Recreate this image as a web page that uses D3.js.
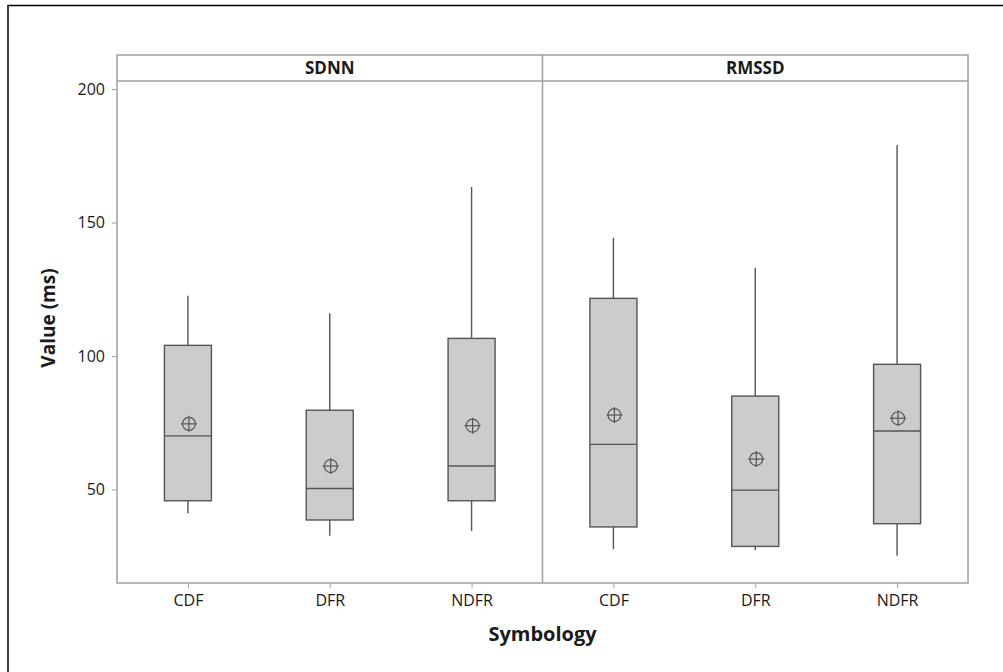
<!DOCTYPE html>
<html>
<head>
<meta charset="utf-8">
<script src="https://cdn.jsdelivr.net/npm/d3@7"></script>
<style>
  body { margin: 0; background: #fff; }
  svg { display: block; font-family: "Open Sans", "Noto Sans", sans-serif; }
  .tick text { fill: #1a1a1a; font-size: 16px; font-family: "Open Sans", "Noto Sans", sans-serif; }
  .tick line { stroke: #a0a0a0; }
</style>
</head>
<body>
<svg id="chart" width="1003" height="672"></svg>
<script>
// facet panels and groups on the x axis
var panels = ['SDNN', 'RMSSD'];
var groups = ['CDF', 'DFR', 'NDFR'];
var yTicks = [50, 100, 150, 200];

// SDNN box stats (ms), in order CDF, DFR, NDFR
var sdnnLow    = [41.1, 32.7, 34.5];
var sdnnQ1     = [45.8, 38.6, 45.8];
var sdnnMedian = [70.1, 50.4, 58.8];
var sdnnQ3     = [104.0, 79.7, 106.6];
var sdnnHigh   = [122.6, 116.0, 163.3];
var sdnnMean   = [74.6, 58.8, 73.9];

// RMSSD box stats (ms)
var rmssdLow    = [27.7, 27.3, 25.2];
var rmssdQ1     = [36.0, 28.7, 37.2];
var rmssdMedian = [66.9, 49.8, 71.9];
var rmssdQ3     = [121.6, 85.0, 96.9];
var rmssdHigh   = [144.3, 133.1, 179.0];
var rmssdMean   = [77.9, 61.4, 76.7];

// build rows for drawing
function rows(panel, low, q1, med, q3, high, mean) {
    return groups.map(function(g, i) {
        return {panel: panel, group: g, low: low[i], q1: q1[i], median: med[i], q3: q3[i], high: high[i], mean: mean[i]};
    });
}
var data = rows('SDNN', sdnnLow, sdnnQ1, sdnnMedian, sdnnQ3, sdnnHigh, sdnnMean)
    .concat(rows('RMSSD', rmssdLow, rmssdQ1, rmssdMedian, rmssdQ3, rmssdHigh, rmssdMean));

var svg = d3.select('#chart');

// plot area
var plotLeft = 117, plotRight = 968, plotTop = 55, stripBottom = 81, plotBottom = 583;
var boxWidth = 47;
var frameColor = '#a0a0a0';
var boxStroke = '#555555';

// black outer frame (only top/left visible)
svg.append('path')
    .attr('d', 'M8,680 L8,5.5 L1010,5.5')
    .attr('fill', 'none')
    .attr('stroke', '#000')
    .attr('stroke-width', 1.5);

var yScale = d3.scaleLinear()
    .domain([15, 203])
    .range([plotBottom, stripBottom]);

var panelScale = d3.scaleBand()
    .domain(panels)
    .range([plotLeft, plotRight]);

var xScale = d3.scalePoint()
    .domain(groups)
    .range([0, panelScale.bandwidth()])
    .padding(0.5);

// y axis
var leftAxis = d3.axisLeft(yScale)
    .tickValues(yTicks)
    .tickSize(5)
    .tickPadding(7);

svg.append('g')
    .attr('transform', 'translate(' + plotLeft + ',0)')
    .call(leftAxis)
    .call(function(g) { g.select('.domain').remove(); });

// panels
panels.forEach(function(p) {
    var x0 = panelScale(p);
    var g = svg.append('g').attr('transform', 'translate(' + x0 + ',0)');

    var bottomAxis = d3.axisBottom(xScale).tickSize(5).tickPadding(7);
    g.append('g')
        .attr('transform', 'translate(0,' + plotBottom + ')')
        .call(bottomAxis)
        .call(function(a) { a.select('.domain').remove(); });

    // strip label
    g.append('text')
        .attr('x', panelScale.bandwidth() / 2)
        .attr('y', (plotTop + stripBottom) / 2)
        .attr('dy', '0.36em')
        .attr('text-anchor', 'middle')
        .attr('font-size', '17px')
        .attr('font-weight', 'bold')
        .attr('fill', '#1a1a1a')
        .text(p);

    var boxes = g.selectAll('g.box')
        .data(data.filter(function(d) { return d.panel === p; }))
        .enter()
        .append('g')
            .attr('class', 'box')
            .attr('transform', function(d) { return 'translate(' + xScale(d.group) + ',0)'; });

    // whiskers
    boxes.append('line')
        .attr('y1', function(d) { return yScale(d.high); })
        .attr('y2', function(d) { return yScale(d.q3); })
        .attr('stroke', boxStroke).attr('stroke-width', 1.4);
    boxes.append('line')
        .attr('y1', function(d) { return yScale(d.q1); })
        .attr('y2', function(d) { return yScale(d.low); })
        .attr('stroke', boxStroke).attr('stroke-width', 1.4);

    boxes.append('rect')
        .attr('x', -boxWidth / 2)
        .attr('width', boxWidth)
        .attr('y', function(d) { return yScale(d.q3); })
        .attr('height', function(d) { return yScale(d.q1) - yScale(d.q3); })
        .attr('fill', '#cccccc')
        .attr('stroke', boxStroke)
        .attr('stroke-width', 1.4);

    boxes.append('line')
        .attr('x1', -boxWidth / 2)
        .attr('x2', boxWidth / 2)
        .attr('y1', function(d) { return yScale(d.median); })
        .attr('y2', function(d) { return yScale(d.median); })
        .attr('stroke', boxStroke).attr('stroke-width', 1.4);

    // mean symbol: circle with cross
    var mean = boxes.append('g')
        .attr('transform', function(d) { return 'translate(1,' + yScale(d.mean) + ')'; })
        .attr('stroke', boxStroke)
        .attr('stroke-width', 1.2)
        .attr('fill', 'none');
    mean.append('circle').attr('r', 6.5);
    mean.append('line').attr('x1', -8).attr('x2', 8);
    mean.append('line').attr('y1', -8).attr('y2', 8);
});

// frame: panel outline, strip and divider
svg.append('rect')
    .attr('x', plotLeft).attr('y', plotTop)
    .attr('width', plotRight - plotLeft).attr('height', plotBottom - plotTop)
    .attr('fill', 'none')
    .attr('stroke', frameColor)
    .attr('stroke-width', 1.5);

svg.append('line')
    .attr('x1', plotLeft).attr('x2', plotRight)
    .attr('y1', stripBottom).attr('y2', stripBottom)
    .attr('stroke', frameColor)
    .attr('stroke-width', 1.5);

svg.append('line')
    .attr('x1', panelScale('RMSSD')).attr('x2', panelScale('RMSSD'))
    .attr('y1', plotTop).attr('y2', plotBottom)
    .attr('stroke', frameColor)
    .attr('stroke-width', 1.5);

// axis titles
svg.append('text')
    .attr('x', (plotLeft + plotRight) / 2)
    .attr('y', 641)
    .attr('text-anchor', 'middle')
    .attr('font-size', '20px')
    .attr('font-weight', 'bold')
    .attr('fill', '#1a1a1a')
    .text('Symbology');

svg.append('text')
    .attr('transform', 'rotate(-90)')
    .attr('x', -318)
    .attr('y', 55)
    .attr('text-anchor', 'middle')
    .attr('font-size', '19px')
    .attr('font-weight', 'bold')
    .attr('fill', '#1a1a1a')
    .text('Value (ms)');
</script>
</body>
</html>
